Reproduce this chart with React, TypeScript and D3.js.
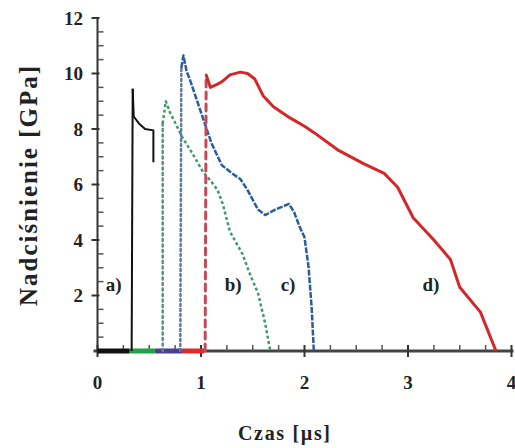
import React from "react";
import * as d3 from "d3";

const xTickLabels = ["0", "1", "2", "3", "4"];
const xTicks = [0, 1, 2, 3, 4];
const yTicks = [2, 4, 6, 8, 10, 12];

const curveA: [number, number][] = [
  [0.33, 0], [0.34, 9.45], [0.35, 8.45], [0.4, 8.2], [0.46, 8.0], [0.54, 7.95], [0.54, 6.8],
];
const curveB: [number, number][] = [
  [0.63, 0], [0.63, 8.2], [0.66, 9.0], [0.7, 8.6], [0.82, 7.7], [0.92, 7.1], [1.02, 6.45],
  [1.1, 6.1], [1.16, 5.8], [1.21, 5.3], [1.28, 4.3], [1.4, 3.5], [1.48, 2.7], [1.55, 2.1],
  [1.62, 1.0], [1.67, 0],
];
const curveC: [number, number][] = [
  [0.8, 0], [0.81, 10.2], [0.83, 10.65], [0.86, 10.1], [0.9, 9.7], [1.0, 8.6], [1.1, 7.5],
  [1.2, 6.7], [1.3, 6.4], [1.38, 6.2], [1.45, 5.8], [1.55, 5.1], [1.62, 4.9], [1.72, 5.1],
  [1.85, 5.3], [1.9, 5.0], [1.95, 4.5], [2.0, 4.1], [2.04, 3.0], [2.07, 1.5], [2.09, 0],
];
const curveD: [number, number][] = [
  [1.04, 0], [1.05, 9.95], [1.09, 9.5], [1.15, 9.6], [1.2, 9.7], [1.28, 9.95], [1.38, 10.05],
  [1.45, 10.0], [1.52, 9.8], [1.6, 9.2], [1.7, 8.8], [1.86, 8.4], [2.0, 8.1], [2.1, 7.85],
  [2.32, 7.25], [2.57, 6.75], [2.77, 6.4], [2.9, 5.9], [3.05, 4.8], [3.25, 4.0], [3.41, 3.3],
  [3.5, 2.3], [3.7, 1.4], [3.85, 0],
];
const baselines: { from: number; to: number; color: string }[] = [
  { from: 0, to: 0.31, color: "#111111" },
  { from: 0.31, to: 0.56, color: "#22a04a" },
  { from: 0.56, to: 0.82, color: "#4a3f8f" },
  { from: 0.82, to: 1.03, color: "#e02a2a" },
];
const curveLabels = [
  { text: "a)", t: 0.08 },
  { text: "b)", t: 1.23 },
  { text: "c)", t: 1.77 },
  { text: "d)", t: 3.14 },
];

const series = [
  { data: curveA, riseColor: "#111111", riseDash: "none", color: "#111111", dash: "none", width: 2 },
  { data: curveB, riseColor: "#5c8f84", riseDash: "2,3.5", color: "#3e9a66", dash: "3,2.5", width: 2.5 },
  { data: curveC, riseColor: "#5f7c98", riseDash: "2,3", color: "#2b5c9c", dash: "6,1.5", width: 2.5 },
  { data: curveD, riseColor: "#c44a5a", riseDash: "7,5", color: "#d42828", dash: "none", width: 3 },
];

export default function App() {
  const x = d3.scaleLinear().domain([0, 4]).range([97.5, 511.5]);
  const y = d3.scaleLinear().domain([0, 12]).range([351, 18]);
  const line = d3.line<[number, number]>().x((d) => x(d[0])).y((d) => y(d[1]));
  const font = "'Liberation Serif', 'Times New Roman', serif";
  const minorX = d3.range(0, 4.001, 0.25).filter((v) => Math.abs(v - Math.round(v)) > 1e-6);
  const minorY = d3.range(0, 12.001, 0.5).filter((v) => Math.abs(v / 2 - Math.round(v / 2)) > 1e-6);

  return (
    <svg width={515} height={448} style={{ position: "absolute", left: 0, top: 0, background: "#fff" }}>
      {/* axes */}
      <line x1={x(0)} x2={x(0)} y1={y(12)} y2={y(0)} stroke="#333" strokeWidth={2} />
      <line x1={x(0) - 4} x2={x(4) + 2} y1={y(0)} y2={y(0)} stroke="#444" strokeWidth={3} />
      {yTicks.map((v) => (
        <g key={"yt" + v}>
          <line x1={x(0) - 6} x2={x(0) + 2} y1={y(v)} y2={y(v)} stroke="#333" strokeWidth={2} />
          <text x={83} y={y(v)} dy="0.35em" textAnchor="end" fontFamily={font} fontWeight="bold" fontSize={19} fill="#222">
            {v}
          </text>
        </g>
      ))}
      {minorY.map((v) => (
        <line key={"ym" + v} x1={x(0)} x2={x(0) + 6} y1={y(v)} y2={y(v)} stroke="#555" strokeWidth={1.5} />
      ))}
      {xTicks.map((v, i) => (
        <g key={"xt" + v}>
          <line x1={x(v)} x2={x(v)} y1={y(0) - 6} y2={y(0) + 6} stroke="#333" strokeWidth={2} />
          <text x={x(v)} y={389} textAnchor="middle" fontFamily={font} fontWeight="bold" fontSize={19} fill="#222">
            {xTickLabels[i]}
          </text>
        </g>
      ))}
      {minorX.map((v) => (
        <line key={"xm" + v} x1={x(v)} x2={x(v)} y1={y(0) - 6} y2={y(0)} stroke="#555" strokeWidth={1.5} />
      ))}
      {/* baselines */}
      {baselines.map((b, i) => (
        <line key={"b" + i} x1={x(b.from)} x2={x(b.to)} y1={y(0)} y2={y(0)} stroke={b.color} strokeWidth={5} />
      ))}
      {/* curves */}
      {series.map((s, i) => (
        <g key={"s" + i}>
          <path d={line(s.data.slice(0, 2)) || ""} fill="none" stroke={s.riseColor} strokeWidth={s.width}
            strokeDasharray={s.riseDash} strokeLinecap={s.riseDash === "none" ? "butt" : "round"} />
          <path d={line(s.data.slice(1)) || ""} fill="none" stroke={s.color} strokeWidth={s.width}
            strokeDasharray={s.dash} strokeLinejoin="round" />
        </g>
      ))}
      {curveLabels.map((l) => (
        <text key={l.text} x={x(l.t)} y={291} fontFamily={font} fontWeight="bold" fontSize={19} fill="#222">
          {l.text}
        </text>
      ))}
      <text transform={`translate(37,186) rotate(-90)`} textAnchor="middle" fontFamily={font} fontWeight="bold"
        fontSize={25} fill="#222" textLength={240} lengthAdjust="spacing">
        Nadciśnienie [GPa]
      </text>
      <text x={284} y={440} textAnchor="middle" fontFamily={font} fontWeight="bold" fontSize={20} fill="#222"
        textLength={92} lengthAdjust="spacing">
        Czas [µs]
      </text>
    </svg>
  );
}
